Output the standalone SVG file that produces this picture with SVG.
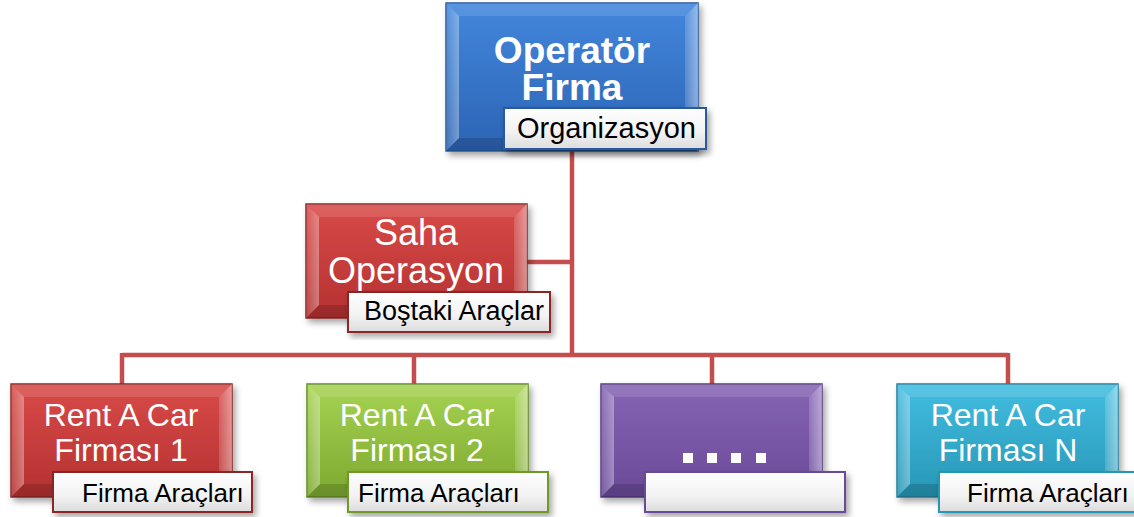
<svg xmlns="http://www.w3.org/2000/svg" width="1134" height="517" viewBox="0 0 1134 517">
<defs>
<filter id="sh" x="-10%" y="-10%" width="125%" height="130%"><feDropShadow dx="3" dy="4" stdDeviation="3" flood-color="#000" flood-opacity="0.35"/></filter>
<linearGradient id="gBlue" x1="0" y1="0" x2="0" y2="1"><stop offset="0" stop-color="#4287dc"/><stop offset="1" stop-color="#2c63b4"/></linearGradient>
<linearGradient id="gRed" x1="0" y1="0" x2="0" y2="1"><stop offset="0" stop-color="#d84a48"/><stop offset="1" stop-color="#b53131"/></linearGradient>
<linearGradient id="gGreen" x1="0" y1="0" x2="0" y2="1"><stop offset="0" stop-color="#a6d352"/><stop offset="1" stop-color="#7ca92f"/></linearGradient>
<linearGradient id="gPurple" x1="0" y1="0" x2="0" y2="1"><stop offset="0" stop-color="#8664b4"/><stop offset="1" stop-color="#6a4a98"/></linearGradient>
<linearGradient id="gCyan" x1="0" y1="0" x2="0" y2="1"><stop offset="0" stop-color="#42bde0"/><stop offset="1" stop-color="#2796b6"/></linearGradient>
<linearGradient id="gLab" x1="0" y1="0" x2="0" y2="1"><stop offset="0" stop-color="#ffffff"/><stop offset="0.6" stop-color="#f2f2f2"/><stop offset="1" stop-color="#dcdcdc"/></linearGradient>
<linearGradient id="gSide" x1="0" y1="0" x2="1" y2="0"><stop offset="0" stop-color="#fff" stop-opacity="0.15"/><stop offset="1" stop-color="#fff" stop-opacity="0.45"/></linearGradient>
<linearGradient id="gSideL" x1="0" y1="0" x2="1" y2="0"><stop offset="0" stop-color="#fff" stop-opacity="0.1"/><stop offset="1" stop-color="#fff" stop-opacity="0.35"/></linearGradient>
</defs>
<style>
.conn{stroke:#c44e4e;stroke-width:4.5;fill:none}
.bt{fill:#fff;fill-opacity:0.12}
.bb{fill:#000;fill-opacity:0.15}
.bl{fill:url(#gSideL)}
.br{fill:url(#gSide)}
.lab{fill:url(#gLab);stroke-width:2}
.tw{font-family:"Liberation Sans",Arial,sans-serif;fill:#fff;text-anchor:middle}
.tb{font-family:"Liberation Sans",Arial,sans-serif;fill:#000}
</style>
<g id="connectors">
<path class="conn" d="M572 150V355M526 262H572M122 355H1008M122 353V386M414 353V386M712 353V386M1008 353V386"/>
</g>
<g id="n-operator">
<rect x="446" y="3" width="252" height="148" fill="url(#gBlue)" stroke="#2a5a9e" stroke-width="1.5" filter="url(#sh)"/>
<polygon class="bt" points="446,3 698,3 685,16 459,16"/>
<polygon class="bb" points="446,151 698,151 685,138 459,138"/>
<polygon class="bl" points="446,3 459,16 459,138 446,151"/>
<polygon class="br" points="698,3 685,16 685,138 698,151"/>
<text class="tw" x="572" y="63" font-size="37" font-weight="bold">Operatör</text>
<text class="tw" x="572" y="100" font-size="37" font-weight="bold">Firma</text>
<rect class="lab" x="504" y="108" width="202" height="41" stroke="#2a5a9e" filter="url(#sh)"/>
<text class="tb" x="517" y="138" font-size="29">Organizasyon</text>
</g>
<g id="n-saha">
<rect x="306" y="204" width="221" height="114" fill="url(#gRed)" stroke="#8b2626" stroke-width="1.5" filter="url(#sh)"/>
<polygon class="bt" points="306,204 527,204 514,217 319,217"/>
<polygon class="bb" points="306,318 527,318 514,305 319,305"/>
<polygon class="bl" points="306,204 319,217 319,305 306,318"/>
<polygon class="br" points="527,204 514,217 514,305 527,318"/>
<text class="tw" x="416" y="245" font-size="36">Saha</text>
<text class="tw" x="416" y="283" font-size="36">Operasyon</text>
<rect class="lab" x="348" y="292" width="202" height="40" stroke="#8b2626" filter="url(#sh)"/>
<text class="tb" x="364" y="320" font-size="27">Boştaki Araçlar</text>
</g>
<g id="n-rent1">
<rect x="11" y="384" width="221" height="113" fill="url(#gRed)" stroke="#8b2626" stroke-width="1.5" filter="url(#sh)"/>
<polygon class="bt" points="11,384 232,384 219,397 24,397"/>
<polygon class="bb" points="11,497 232,497 219,484 24,484"/>
<polygon class="bl" points="11,384 24,397 24,484 11,497"/>
<polygon class="br" points="232,384 219,397 219,484 232,497"/>
<text class="tw" x="121" y="426" font-size="32">Rent A Car</text>
<text class="tw" x="121" y="461" font-size="32">Firması 1</text>
<rect class="lab" x="53" y="472" width="199" height="40" stroke="#8b2626" filter="url(#sh)"/>
<text class="tb" x="82" y="502" font-size="26">Firma Araçları</text>
</g>
<g id="n-rent2">
<rect x="307" y="384" width="221" height="113" fill="url(#gGreen)" stroke="#5f8a22" stroke-width="1.5" filter="url(#sh)"/>
<polygon class="bt" points="307,384 528,384 515,397 320,397"/>
<polygon class="bb" points="307,497 528,497 515,484 320,484"/>
<polygon class="bl" points="307,384 320,397 320,484 307,497"/>
<polygon class="br" points="528,384 515,397 515,484 528,497"/>
<text class="tw" x="417" y="426" font-size="32">Rent A Car</text>
<text class="tw" x="417" y="461" font-size="32">Firması 2</text>
<rect class="lab" x="348" y="472" width="200" height="40" stroke="#6d9a2a" filter="url(#sh)"/>
<text class="tb" x="358" y="502" font-size="26">Firma Araçları</text>
</g>
<g id="n-dots">
<rect x="601" y="384" width="221" height="113" fill="url(#gPurple)" stroke="#553a80" stroke-width="1.5" filter="url(#sh)"/>
<polygon class="bt" points="601,384 822,384 809,397 614,397"/>
<polygon class="bb" points="601,497 822,497 809,484 614,484"/>
<polygon class="bl" points="601,384 614,397 614,484 601,497"/>
<polygon class="br" points="822,384 809,397 809,484 822,497"/>
<g fill="#fff"><rect x="683" y="453" width="10" height="10"/><rect x="707" y="453" width="10" height="10"/><rect x="731" y="453" width="10" height="10"/><rect x="756" y="453" width="10" height="10"/></g>
<rect class="lab" x="645" y="472" width="200" height="40" stroke="#6a4a98" filter="url(#sh)"/>
</g>
<g id="n-rentN">
<rect x="897" y="384" width="221" height="113" fill="url(#gCyan)" stroke="#1f7d99" stroke-width="1.5" filter="url(#sh)"/>
<polygon class="bt" points="897,384 1118,384 1105,397 910,397"/>
<polygon class="bb" points="897,497 1118,497 1105,484 910,484"/>
<polygon class="bl" points="897,384 910,397 910,484 897,497"/>
<polygon class="br" points="1118,384 1105,397 1105,484 1118,497"/>
<text class="tw" x="1008" y="426" font-size="32">Rent A Car</text>
<text class="tw" x="1008" y="461" font-size="32">Firması N</text>
<rect class="lab" x="939" y="472" width="200" height="40" stroke="#2796b6" filter="url(#sh)"/>
<text class="tb" x="967" y="502" font-size="26">Firma Araçları</text>
</g>
</svg>
